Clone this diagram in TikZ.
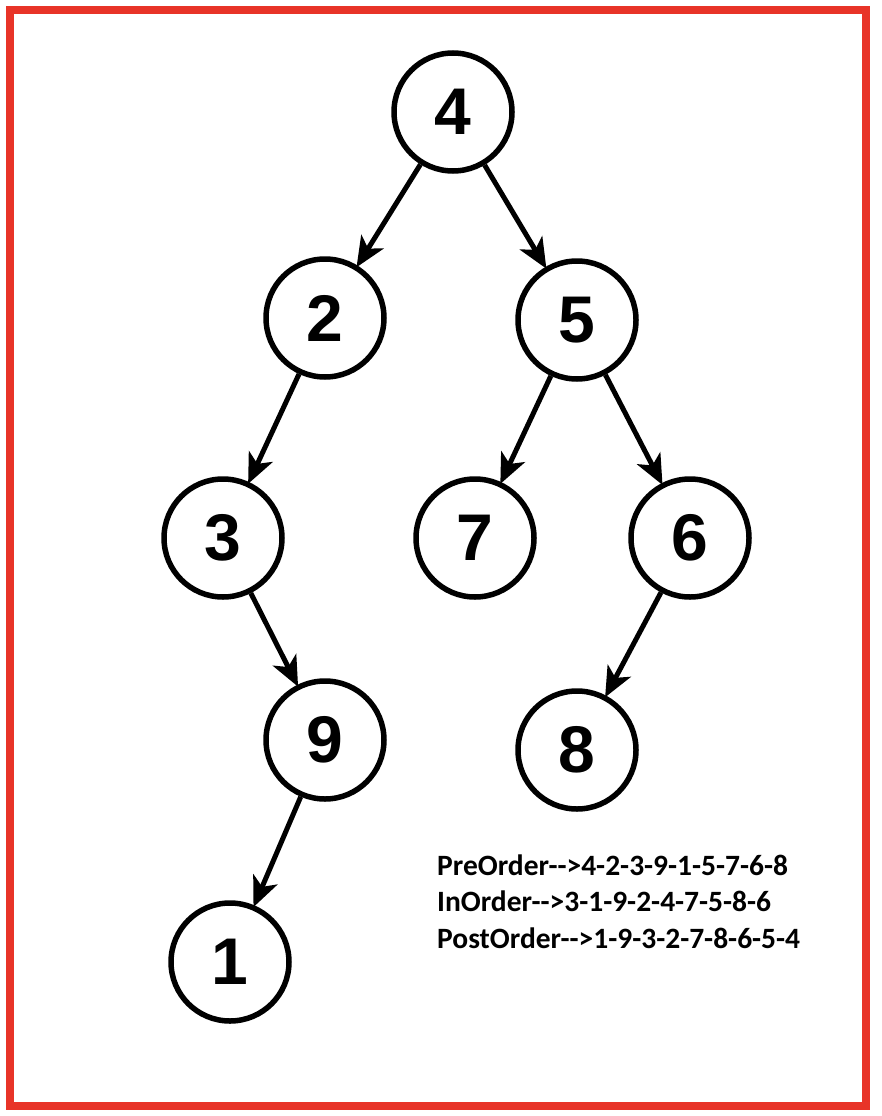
\documentclass[tikz,border=0pt]{standalone}
\usepackage{fontspec}
\setmainfont{Liberation Sans}
\newfontfamily\notefont{Carlito}
\usetikzlibrary{arrows.meta}
\definecolor{framered}{RGB}{232,52,40}
\begin{document}
\begin{tikzpicture}[x=1pt,y=-1pt,
  tnode/.style={circle,draw=black,line width=5.5pt,minimum size=118pt,inner sep=0pt,
    font=\fontsize{66}{66}\selectfont\bfseries},
  edge/.style={line width=5pt,-{Stealth[length=30pt,width=26pt,inset=8pt]},shorten >=-2pt},
  note/.style={anchor=west,inner sep=0pt,font=\notefont\fontsize{29.5}{29.5}\selectfont\bfseries}]
\useasboundingbox (0,0) rectangle (882,1116);
\draw[framered,line width=8pt] (10,10) rectangle (866,1106);
\node[tnode] (n4) at (453,112) {4};
\node[tnode] (n2) at (325,318) {2};
\node[tnode] (n5) at (577,320) {5};
\node[tnode] (n3) at (223,538) {3};
\node[tnode] (n7) at (475,538) {7};
\node[tnode] (n6) at (690,538) {6};
\node[tnode] (n9) at (325,740) {9};
\node[tnode] (n8) at (577,750) {8};
\node[tnode] (n1) at (230,962) {1};
\draw[edge] (n4) -- (n2);
\draw[edge] (n4) -- (n5);
\draw[edge] (n2) -- (n3);
\draw[edge] (n5) -- (n7);
\draw[edge] (n5) -- (n6);
\draw[edge] (n3) -- (n9);
\draw[edge] (n6) -- (n8);
\draw[edge] (n9) -- (n1);
\node[note] (pre) at (437,865) {PreOrder-->4-2-3-9-1-5-7-6-8};
\node[note] (in) at (437,901) {InOrder-->3-1-9-2-4-7-5-8-6};
\node[note] (post) at (437,938) {PostOrder-->1-9-3-2-7-8-6-5-4};
\end{tikzpicture}
\end{document}
